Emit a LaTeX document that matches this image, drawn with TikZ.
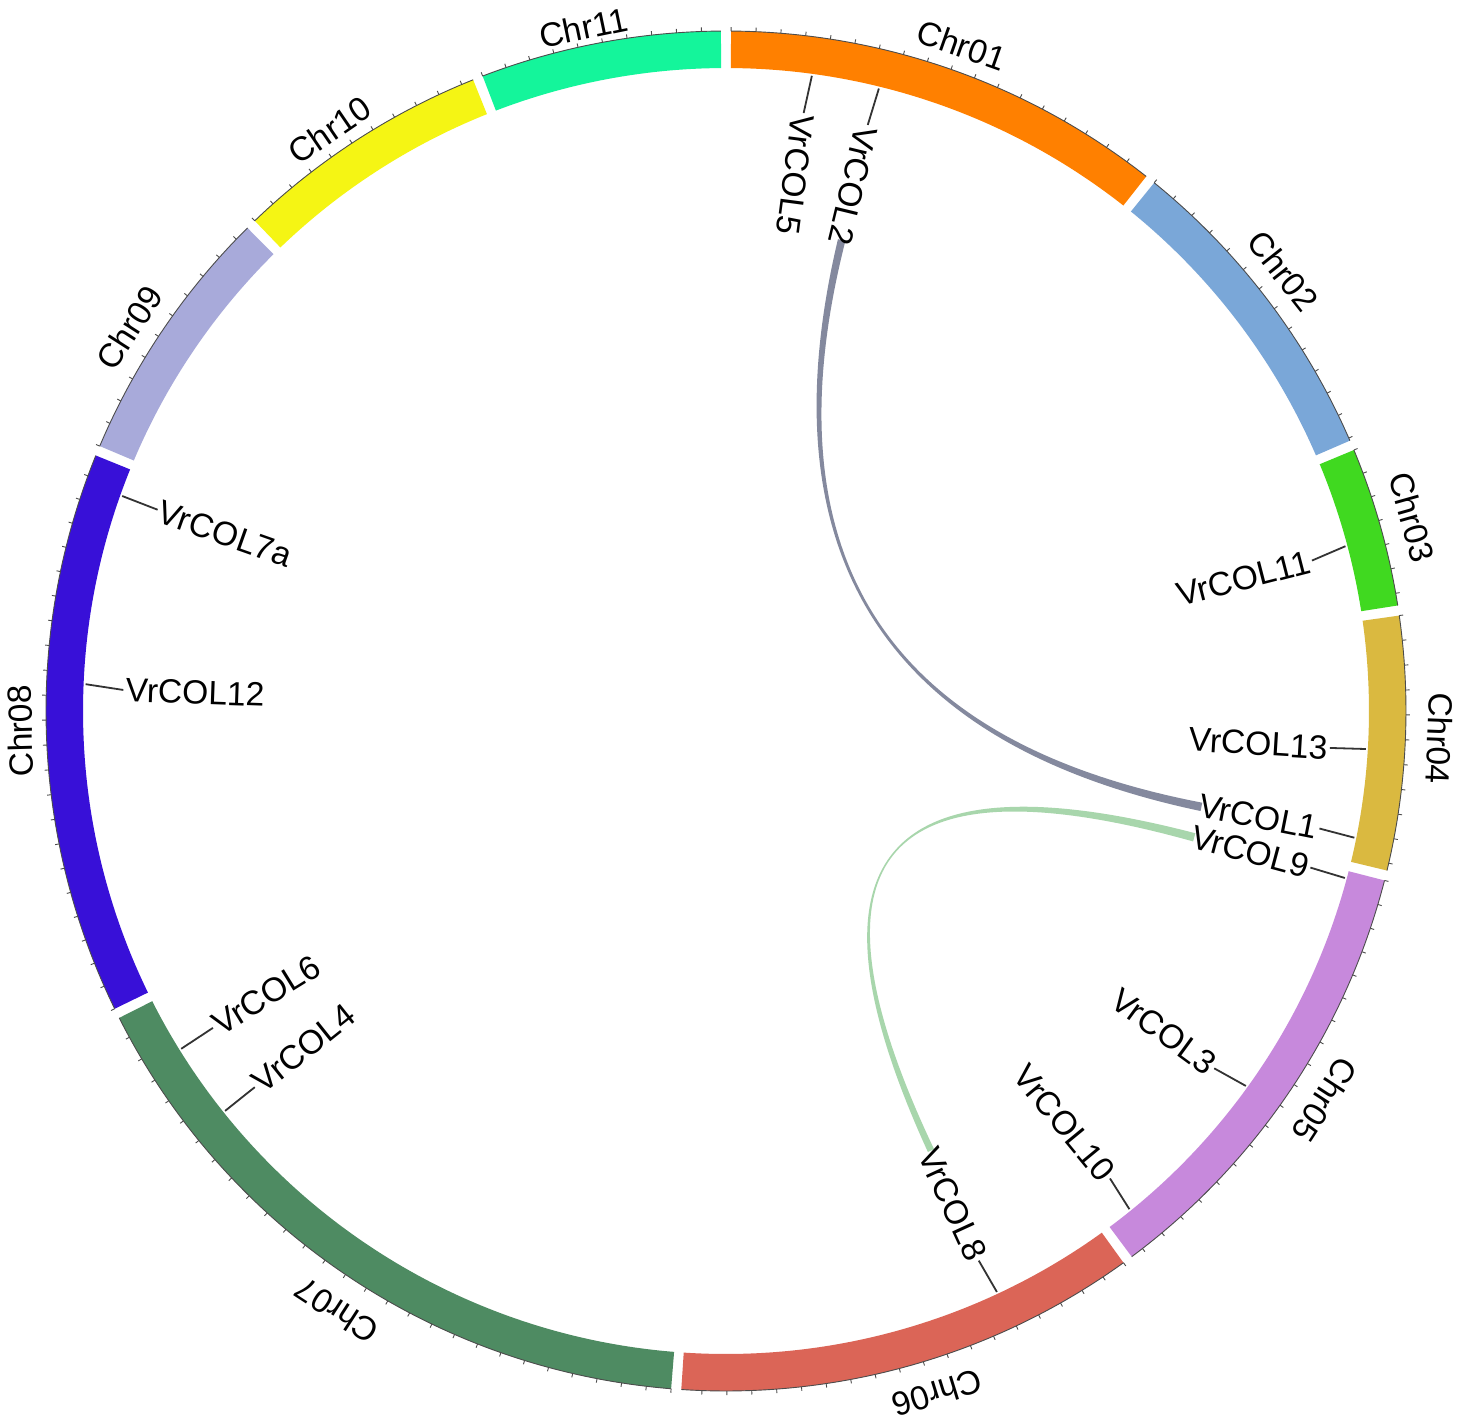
\documentclass[tikz,border=0pt]{standalone}
\usepackage{fontspec}
\setmainfont{Liberation Sans}
\definecolor{cA}{RGB}{255,128,0}
\definecolor{cB}{RGB}{122,167,216}
\definecolor{cC}{RGB}{64,217,32}
\definecolor{cD}{RGB}{218,185,64}
\definecolor{cE}{RGB}{199,137,220}
\definecolor{cF}{RGB}{219,101,87}
\definecolor{cG}{RGB}{78,139,98}
\definecolor{cH}{RGB}{56,16,216}
\definecolor{cI}{RGB}{168,170,218}
\definecolor{cJ}{RGB}{245,245,20}
\definecolor{cK}{RGB}{20,245,155}
\definecolor{linkgray}{RGB}{132,137,158}
\definecolor{linkgreen}{RGB}{168,214,172}
\begin{document}
\begin{tikzpicture}[x=0.5pt,y=0.5pt,
  tickline/.style={draw=black!70,line width=0.45pt},
  chrlabel/.style={inner sep=0pt,font=\fontsize{16.8}{20}\selectfont},
  genelabel/.style={inner sep=0pt,font=\fontsize{16.8}{20}\selectfont},
  geneline/.style={draw=black!80,line width=0.9pt}]
\useasboundingbox (-726,-710) rectangle (735,711);
\fill[white] (-726,-710) rectangle (735,711);
% chromosomes: start/end angle, colour, label, name, label angle, label radius
\foreach \s/\e/\col/\lab/\nm/\la/\lr in {90/51.4/cA/Chr01/chrA/70.5/706, 51.4/23.0/cB/Chr02/chrB/38.3/710, 23.0/8.5/cC/Chr03/chrC/15.8/713, 8.5/-14.0/cD/Chr04/chrD/-2.2/714, -14.0/-53.8/cE/Chr05/chrE/-33.0/714, -53.8/-94.2/cF/Chr06/chrF/-72.8/714, -94.2/-153.6/cG/Chr07/chrG/-123.0/715, -153.6/-202.5/cH/Chr08/chrH/181.6/706, -202.5/-225.7/cI/Chr09/chrI/147.3/709, -225.7/-248.6/cJ/Chr10/chrJ/124.3/703, -248.6/-270/cK/Chr11/chrK/101.8/698}{
  \pgfmathsetmacro\sa{\s-0.43}
  \pgfmathsetmacro\ea{\e+0.43}
  \fill[\col] (\sa:643) arc[start angle=\sa,end angle=\ea,radius=643] -- (\ea:680) arc[start angle=\ea,end angle=\sa,radius=680] -- cycle;
  \draw[tickline] (\sa:680) arc[start angle=\sa,end angle=\ea,radius=680];
  \pgfmathtruncatemacro\nt{floor((\sa-\ea)/2.1)}
  \foreach \k in {0,...,\nt}{
    \pgfmathsetmacro\ta{\sa-2.1*\k}
    \draw[tickline] (\ta:680) -- (\ta:684);
  }
  \pgfmathsetmacro\rt{\la-90}
  \node[chrlabel,rotate=\rt] (\nm) at (\la:\lr) {\lab};
}
% links (ribbons between gene coordinates)
\coordinate (lAa) at (75.75:485); \coordinate (lAb) at (76.65:485);
\coordinate (lBa) at (-10.9:485); \coordinate (lBb) at (-11.9:485);
\coordinate (cAa) at (75.75:161.7); \coordinate (cAb) at (76.65:161.7);
\coordinate (cBa) at (-10.9:161.7); \coordinate (cBb) at (-11.9:161.7);
\fill[linkgray] (lAa) .. controls (cAa) and (cBa) .. (lBa) -- (lBb) .. controls (cBb) and (cAb) .. (lAb) -- cycle;
\coordinate (lCa) at (-14.6:485); \coordinate (lCb) at (-15.6:485);
\coordinate (lDa) at (-64.6:485); \coordinate (lDb) at (-65.4:485);
\coordinate (cCa) at (-14.6:161.7); \coordinate (cCb) at (-15.6:161.7);
\coordinate (cDa) at (-64.6:161.7); \coordinate (cDb) at (-65.4:161.7);
\fill[linkgreen] (lCb) .. controls (cCb) and (cDa) .. (lDa) -- (lDb) .. controls (cDb) and (cCa) .. (lCa) -- cycle;
% genes on right side: label reads outward
\foreach \a/\la/\lab/\nm in {14.9/14.4/VrCOL11/gK, -3.4/-3.5/VrCOL13/gM, -11.4/-11.2/VrCOL1/gA, -15.1/-15.0/VrCOL9/gI, -35.8/-36.2/VrCOL3/gC, -51.0/-50.6/VrCOL10/gJ, -65.0/-65.3/VrCOL8/gH}{
  \coordinate (\nm o) at (\a:641);
  \coordinate (\nm i) at (\la:605);
  \draw[geneline] (\nm o) -- (\nm i);
  \node[genelabel,anchor=east,rotate=\la] (\nm t) at (\la:603) {\lab};
}
% genes on top and left: label reads inward
\foreach \a/\la/\lab/\nm in {82.3/82.6/VrCOL5/gE, 76.2/76.4/VrCOL2/gB, 160.4/160.5/VrCOL7a/gG, 177.6/178.0/VrCOL12/gL, 211.8/211.7/VrCOL6/gF, 218.6/218.6/VrCOL4/gD}{
  \coordinate (\nm o) at (\a:641);
  \coordinate (\nm i) at (\la:603);
  \draw[geneline] (\nm o) -- (\nm i);
  \pgfmathsetmacro\rr{\la+180}
  \node[genelabel,anchor=west,rotate=\rr] (\nm t) at (\la:601) {\lab};
}
\end{tikzpicture}
\end{document}
